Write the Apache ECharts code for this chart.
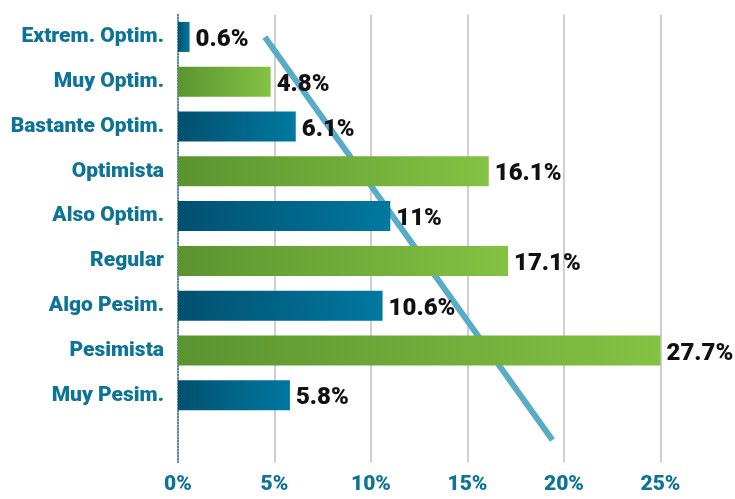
<!DOCTYPE html>
<html><head><meta charset="utf-8">
<script src="https://cdn.jsdelivr.net/npm/echarts@6/dist/echarts.min.js"></script>
<style>html,body{margin:0;padding:0;background:#fff}#c{width:735px;height:499px}</style>
</head><body><div id="c"></div>
<script>
var categories = ['Extrem. Optim.','Muy Optim.','Bastante Optim.','Optimista','Also Optim.','Regular','Algo Pesim.','Pesimista','Muy Pesim.'];
var values = [0.6, 4.8, 6.1, 16.1, 11, 17.1, 10.6, 27.7, 5.8];
var trendStart = 4.5;
var trendEnd = 19.4;
var xTicks = [0, 5, 10, 15, 20, 25];

var FONT = 'Roboto, "Liberation Sans Narrow", "DejaVu Sans Condensed", sans-serif';
var axisCats = categories.concat(['']);
var blueGrad = new echarts.graphic.LinearGradient(0,0,1,0,[{offset:0,color:'#02506e'},{offset:1,color:'#0078a1'}]);
var greenGrad = new echarts.graphic.LinearGradient(0,0,1,0,[{offset:0,color:'#5b9430'},{offset:1,color:'#83c243'}]);
var barData = values.map(function(v,i){return {value:v,itemStyle:{color: i%2===0 ? blueGrad : greenGrad}};});
var trendData = axisCats.map(function(c,i){return i===0?trendStart:(i===axisCats.length-1?trendEnd:null);});

var chart = echarts.init(document.getElementById('c'), null, {renderer:'canvas'});
chart.setOption({
  animation:false,
  grid:{left:178, right:74.5, top:14.5, bottom:36.5, containLabel:false, outerBoundsMode:'none'},
  xAxis:{type:'value', min:xTicks[0], max:xTicks[xTicks.length-1], interval:5,
    axisLine:{show:false}, axisTick:{show:false},
    splitLine:{show:true, lineStyle:{color:['rgba(0,0,0,0)','#c4c4c4','#c4c4c4','#c4c4c4','#c4c4c4','#c4c4c4'], width:1.6}},
    axisLabel:{formatter:'{value}%', color:'#0e7495', fontFamily:FONT, fontWeight:900, fontSize:21, margin:12}
  },
  yAxis:{type:'category', data:axisCats, inverse:true,
    axisLine:{show:true, lineStyle:{color:'#1f5f8b', type:'dotted', width:1.5}},
    axisTick:{show:false},
    axisLabel:{color:'#0e7495', fontFamily:FONT, fontWeight:900, fontSize:21, margin:14}
  },
  series:[
    {type:'line', data:trendData, connectNulls:true, symbol:'none', z:1,
      lineStyle:{color:'#5aabc5', width:6, cap:'butt'}},
    {type:'bar', data:barData, barWidth:30, z:3, clip:true,
      label:{show:true, position:'right', distance:6, offset:[0,3], formatter:'{c}%', color:'#111', fontFamily:FONT, fontWeight:900, fontSize:24}}
  ]
});
</script></body></html>
